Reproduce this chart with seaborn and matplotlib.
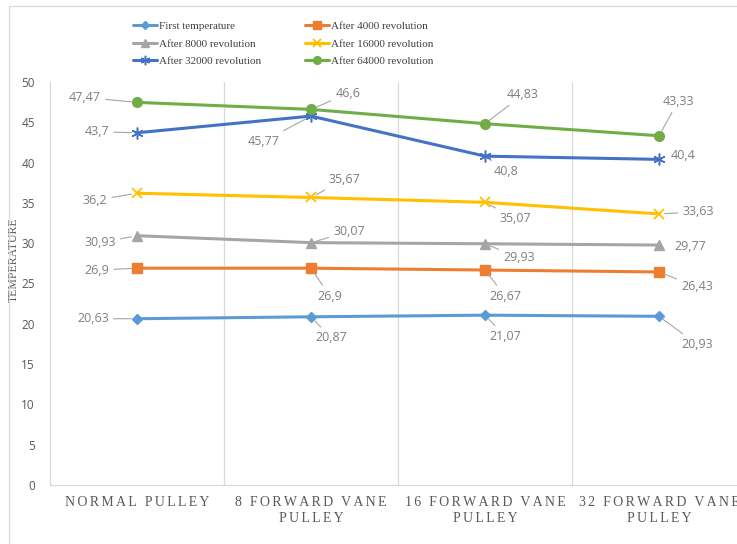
import matplotlib
matplotlib.use("Agg")
import matplotlib.pyplot as plt
from matplotlib.lines import Line2D
import numpy as np
import pandas as pd
import seaborn as sns

# ---- data -------------------------------------------------------------
pulleys = ["NORMAL PULLEY", "8 FORWARD VANE\nPULLEY",
           "16 FORWARD VANE\nPULLEY", "32 FORWARD VANE\nPULLEY"]
series_names = ["First temperature", "After 4000 revolution",
                "After 8000 revolution", "After 16000 revolution",
                "After 32000 revolution", "After 64000 revolution"]
first_temp = [20.63, 20.87, 21.07, 20.93]
after_4000 = [26.9, 26.9, 26.67, 26.43]
after_8000 = [30.93, 30.07, 29.93, 29.77]
after_16000 = [36.2, 35.67, 35.07, 33.63]
after_32000 = [43.7, 45.77, 40.8, 40.4]
after_64000 = [47.47, 46.6, 44.83, 43.33]
all_values = [first_temp, after_4000, after_8000,
              after_16000, after_32000, after_64000]
y_ticks = [0, 5, 10, 15, 20, 25, 30, 35, 40, 45, 50]

# ---- styling ----------------------------------------------------------
colors = ["#5B9BD5", "#ED7D31", "#A5A5A5", "#FFC000", "#4472C4", "#70AD47"]
markers = ["D", "s", "^", "x", (6, 2, 0), "o"]
msizes = [5.5, 6.5, 6.5, 7.5, 8.5, 7]
mews = [1, 1, 1, 1.3, 1.1, 1]

# label offsets from each point, in pixels (dx, dy; dy positive = up)
label_offsets = [
    [(-44, 0), (20, -21), (20, -21), (38, -28)],
    [(-40, -2), (19, -28), (20, -26), (38, -15)],
    [(-37, -7), (38, 11), (34, -14), (31, -1)],
    [(-42, -7), (33, 18), (30, -16), (39, 2)],
    [(-40, 1), (-47, -25), (21, -15), (24, 4)],
    [(-52, 5), (37, 16), (38, 29), (19, 34)],
]
no_leader = {(2, 3), (4, 3)}

LABEL_FONT = ["Open Sans", "DejaVu Sans"]
SERIF = ["Liberation Serif", "DejaVu Serif"]

sns.set_theme(style="white")
plt.rcParams["font.family"] = LABEL_FONT

W, H = 737, 544
fig = plt.figure(figsize=(W / 100, H / 100), dpi=100)
ax = fig.add_axes([50 / W, 1 - 485 / H, 696 / W, 403 / H])

x_pos = np.arange(len(pulleys))
frames = []
for name, vals in zip(series_names, all_values):
    frames.append(pd.DataFrame({"pos": x_pos, "temp": vals, "series": name}))
df = pd.concat(frames, ignore_index=True)

for i, name in enumerate(series_names):
    sub = df[df["series"] == name]
    sns.lineplot(data=sub, x="pos", y="temp", color=colors[i],
                 marker=markers[i], markersize=msizes[i],
                 markeredgewidth=mews[i], markeredgecolor=colors[i],
                 linewidth=2.2, ax=ax, legend=False, zorder=3)

# data labels with leader lines
for i, vals in enumerate(all_values):
    for j, v in enumerate(vals):
        dx, dy = label_offsets[i][j]
        txt = f"{v:g}".replace(".", ",")
        arrow = None if (i, j) in no_leader else dict(
            arrowstyle="-", color="#A6A6A6", lw=0.8, shrinkA=1, shrinkB=4)
        ax.annotate(txt, xy=(x_pos[j], v), xytext=(dx, dy),
                    textcoords="offset pixels", ha="center", va="center",
                    fontsize=9, color="#7F7F7F", arrowprops=arrow, zorder=4)

# axes, grid, ticks
ax.set_xlim(-0.5, 3.5)
ax.set_ylim(0, 50)
ax.set_yticks(y_ticks)
ax.set_yticklabels([str(t) for t in y_ticks], fontsize=8.5, color="#595959")
ax.tick_params(axis="y", length=0, pad=11)

spacer = "\u2006"
def spread(s):
    return "\n".join(spacer.join(list(line)) for line in s.split("\n"))

ax.set_xticks(x_pos)
ax.set_xticklabels([spread(p) for p in pulleys], family=SERIF, fontsize=10,
                   color="#595959", linespacing=1.25)
ax.tick_params(axis="x", length=0, pad=8)
for b in [0.5, 1.5, 2.5]:
    ax.axvline(b, color="#D9D9D9", lw=0.9, zorder=1)
for side in ["top", "right"]:
    ax.spines[side].set_visible(False)
ax.spines["left"].set_color("#D9D9D9")
ax.spines["bottom"].set_color("#D9D9D9")
ax.spines["left"].set_linewidth(0.9)
ax.spines["bottom"].set_linewidth(0.9)
ax.set_xlabel("")
ax.set_ylabel("TEMPERATURE", family=SERIF, fontsize=8.5, color="#595959")
ax.yaxis.set_label_coords((20 - 50) / 696, (485 - 260) / 403)

# legend, filled row by row in two columns
handles = [Line2D([0], [0], color=colors[i], lw=2.2, marker=markers[i],
                  markersize=msizes[i] * 0.8, markeredgewidth=mews[i],
                  markeredgecolor=colors[i]) for i in range(len(series_names))]
order = [0, 2, 4, 1, 3, 5]
fig.legend([handles[k] for k in order], [series_names[k] for k in order],
           ncol=2, loc="upper left",
           bbox_to_anchor=(133 / W, 1 - 21 / H), frameon=False,
           prop={"family": SERIF, "size": 8}, labelcolor="#404040",
           handlelength=2.2, handletextpad=0.15, labelspacing=0.72,
           columnspacing=3.9, borderpad=0, borderaxespad=0)

# chart-area frame
fc = "#D9D9D9"
fig.add_artist(Line2D([9 / W, 9 / W], [0, 1 - 6 / H], color=fc, lw=0.9,
                      transform=fig.transFigure))
fig.add_artist(Line2D([9 / W, 1], [1 - 6 / H, 1 - 6 / H], color=fc, lw=0.9,
                      transform=fig.transFigure))

fig.savefig("out.png", dpi=100, facecolor="white")
